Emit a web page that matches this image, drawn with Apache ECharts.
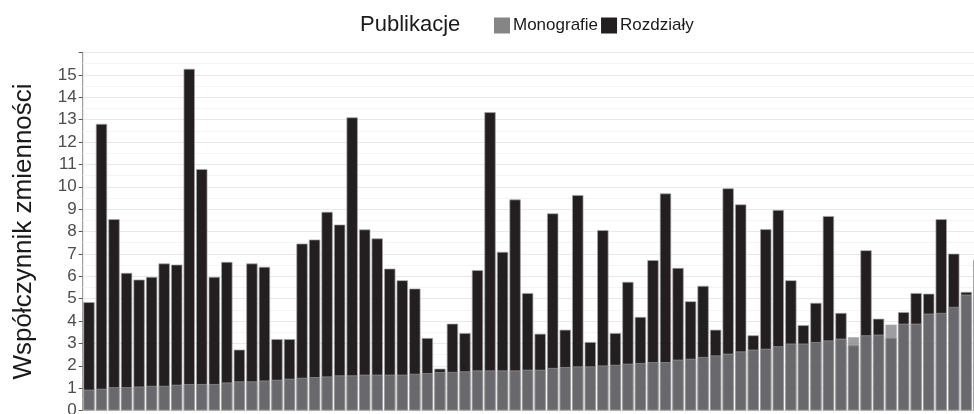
<!DOCTYPE html>
<html>
<head>
<meta charset="utf-8">
<script src="https://cdn.jsdelivr.net/npm/echarts@6/dist/echarts.min.js"></script>
<style>
html,body{margin:0;padding:0;background:#fff;overflow:hidden;width:974px;height:414px;}
#chart{width:986px;height:414px;}
</style>
</head>
<body>
<div id="chart"></div>
<script>
// Data (sorted by Monografie)
const monografie = [0.93,0.97,1.04,1.04,1.07,1.10,1.10,1.15,1.18,1.18,1.18,1.25,
  1.30,1.30,1.34,1.37,1.42,1.46,1.49,1.52,1.57,1.57,1.60,1.60,
  1.60,1.60,1.64,1.67,1.72,1.72,1.75,1.79,1.79,1.79,1.79,1.82,
  1.82,1.90,1.94,1.97,1.97,2.01,2.04,2.09,2.12,2.16,2.16,
  2.27,2.31,2.39,2.46,2.54,2.64,2.72,2.76,2.87,2.99,2.99,3.06,
  3.13,3.21,3.28,3.36,3.39,3.84,3.88,3.88,4.33,4.36,4.63,5.18,5.30];
const rozdzialy = [4.84,12.81,8.55,6.15,5.85,5.97,6.57,6.52,15.27,10.79,5.97,6.64,
  2.72,6.57,6.42,3.19,3.19,7.46,7.64,8.88,8.31,13.10,8.09,7.69,
  6.34,5.82,5.45,3.24,1.87,3.88,3.46,6.27,13.33,7.09,9.43,5.25,
  3.43,8.81,3.61,9.63,3.06,8.06,3.46,5.75,4.18,6.72,9.70,
  6.37,4.88,5.57,3.61,9.93,9.21,3.36,8.10,8.96,5.82,3.81,4.81,
  8.69,4.36,2.91,7.16,4.10,3.24,4.40,5.25,5.22,8.55,7.01,5.30,6.72];
const categories = monografie.map((_, i) => String(i + 1));
const seriesNames = ['Monografie', 'Rozdziały'];
const legendTitle = 'Publikacje';
const yTitle = 'Współczynnik zmienności';

const chart = echarts.init(document.getElementById('chart'), null, {renderer: 'canvas'});
const font = 'Liberation Sans, Arial, sans-serif';
chart.setOption({
  animation: false,
  backgroundColor: '#ffffff',
  title: {
    text: legendTitle,
    left: 360, top: 14, padding: 0,
    textStyle: {fontFamily: font, fontSize: 22, fontWeight: 'normal', color: '#1a1a1a'}
  },
  legend: {
    left: 494, top: 17, padding: 0,
    itemWidth: 16, itemHeight: 16, itemGap: 3,
    icon: 'rect',
    textStyle: {fontFamily: font, fontSize: 17, color: '#1a1a1a', padding: [0, 0, 0, -2]},
    data: [
      {name: seriesNames[0], itemStyle: {color: '#858585', opacity: 1, borderWidth: 0}},
      {name: seriesNames[1], itemStyle: {color: '#231f20', opacity: 1, borderWidth: 0}}
    ]
  },
  grid: {
    left: 82.7, right: 0.9, top: 52.5, bottom: 3.5,
    outerBoundsMode: 'none',
    containLabel: false,
    show: true, borderColor: '#8a8a8a', borderWidth: 1, backgroundColor: 'transparent'
  },
  xAxis: {
    type: 'category',
    data: categories,
    boundaryGap: true,
    axisLine: {show: false},
    axisTick: {show: false},
    axisLabel: {show: false},
    splitLine: {show: false}
  },
  yAxis: {
    type: 'value',
    min: 0, max: 16, interval: 1,
    name: yTitle,
    nameLocation: 'middle',
    nameGap: 46,
    nameTextStyle: {fontFamily: font, fontSize: 26, color: '#1a1a1a'},
    axisLine: {show: false},
    axisTick: {show: true, length: 4, lineStyle: {color: '#555', width: 1}},
    axisLabel: {
      fontFamily: font, fontSize: 17, color: '#4d4d4d', margin: 6,
      formatter: v => (v > 15 ? '' : String(v))
    },
    splitLine: {show: true, lineStyle: {color: '#e9e9e9', width: 1}},
    minorTick: {show: false, splitNumber: 2},
    minorSplitLine: {show: true, lineStyle: {color: '#f4f4f4', width: 1}}
  },
  series: [
    {
      name: seriesNames[1],
      type: 'bar',
      data: rozdzialy,
      barWidth: '90%',
      barGap: '-100%',
      z: 2,
      itemStyle: {color: '#231f20', borderColor: '#a6a6a6', borderWidth: 0.7}
    },
    {
      name: seriesNames[0],
      type: 'bar',
      data: monografie,
      barWidth: '90%',
      barGap: '-100%',
      z: 3,
      itemStyle: {color: 'rgba(128,128,133,0.76)', borderColor: 'rgba(170,170,170,0.8)', borderWidth: 0.7}
    }
  ]
});
</script>
</body>
</html>
